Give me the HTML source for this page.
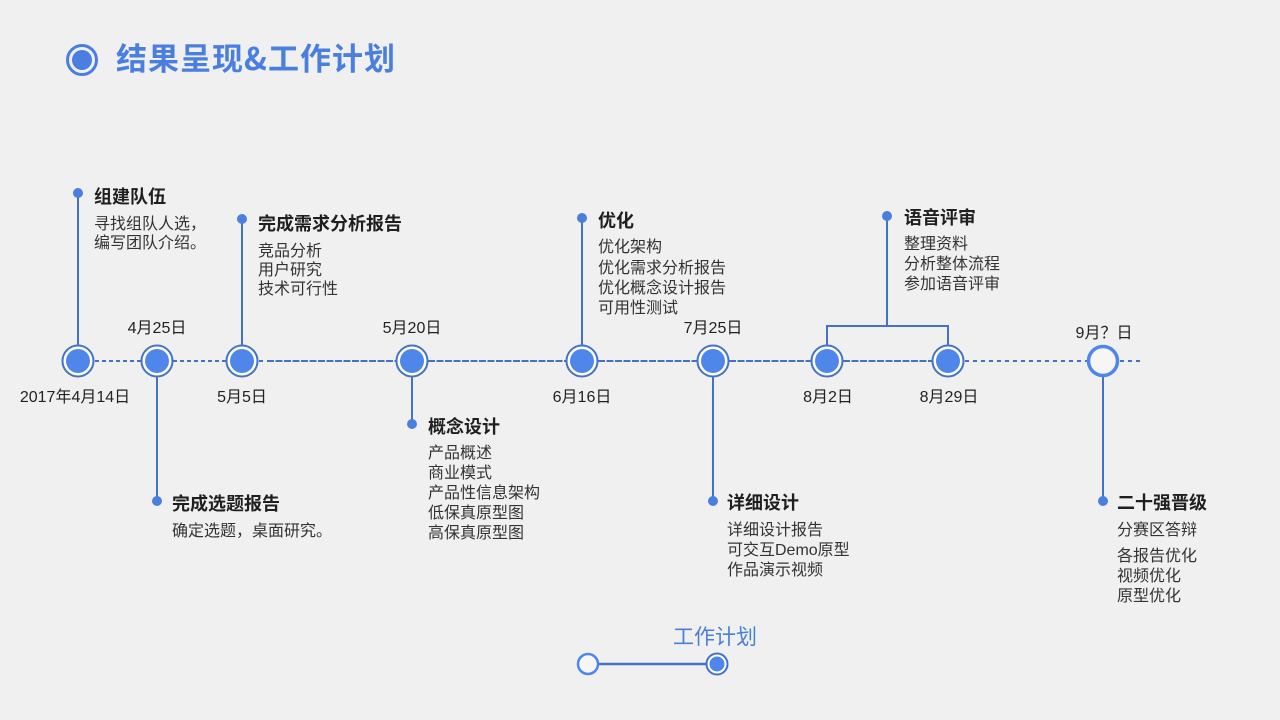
<!DOCTYPE html>
<html>
<head>
<meta charset="utf-8">
<style>
  html,body{margin:0;padding:0;background:#f0f0f0;}
  svg{display:block;}
  text{font-family:"Liberation Sans","Noto Sans CJK SC",sans-serif;fill:#262626;}
  .t{font-size:18px;font-weight:bold;fill:#1f1f1f;}
  .b{font-size:16px;fill:#333;}
  .d{font-size:16px;fill:#222;}
</style>
</head>
<body>
<svg width="1280" height="720" viewBox="0 0 1280 720" xmlns="http://www.w3.org/2000/svg">
  <rect width="1280" height="720" fill="#f0f0f0"/>

  <!-- Header -->
  <circle cx="82" cy="60" r="14.5" fill="none" stroke="#4a7fe0" stroke-width="3"/>
  <circle cx="82" cy="60" r="10" fill="#4a7fe0"/>
  <text x="116" y="70" style="font-size:31px;font-weight:bold;letter-spacing:1px;fill:#4a7fe0;font-family:'Noto Sans CJK SC','Liberation Sans',sans-serif;">结果呈现&amp;工作计划</text>

  <!-- Main timeline line -->
  <g stroke="#4472c4" stroke-width="2" fill="none">
    <line x1="95" y1="361" x2="141" y2="361" stroke-dasharray="4 3"/>
    <line x1="173" y1="361" x2="226" y2="361" stroke-dasharray="4 3"/>
    <line x1="259" y1="361" x2="263" y2="361"/>
    <line x1="267" y1="361" x2="396" y2="361" stroke-dasharray="7 1.5"/>
    <line x1="428" y1="361" x2="566" y2="361" stroke-dasharray="7 1.5"/>
    <line x1="598" y1="361" x2="697" y2="361" stroke-dasharray="7 1.5"/>
    <line x1="729" y1="361" x2="811" y2="361" stroke-dasharray="7 1.5"/>
    <line x1="843" y1="361" x2="932" y2="361" stroke-dasharray="7 1.5"/>
    <line x1="965" y1="361" x2="1087" y2="361" stroke-dasharray="4 4"/>
    <line x1="1120" y1="361" x2="1142" y2="361" stroke-dasharray="4 4"/>
  </g>

  <!-- Vertical connectors -->
  <g stroke="#4472c4" stroke-width="2" fill="none">
    <line x1="78" y1="193" x2="78" y2="345"/>
    <line x1="157" y1="377" x2="157" y2="501"/>
    <line x1="242" y1="219" x2="242" y2="345"/>
    <line x1="412" y1="377" x2="412" y2="424"/>
    <line x1="582" y1="218" x2="582" y2="345"/>
    <line x1="713" y1="377" x2="713" y2="501"/>
    <polyline points="827,345 827,326 948,326 948,345"/>
    <line x1="887" y1="216" x2="887" y2="326"/>
    <line x1="1103" y1="377" x2="1103" y2="501"/>
  </g>

  <!-- Small end dots -->
  <g fill="#4a7fe0">
    <circle cx="78" cy="193" r="5"/>
    <circle cx="157" cy="501" r="5"/>
    <circle cx="242" cy="219" r="5"/>
    <circle cx="412" cy="424" r="5"/>
    <circle cx="582" cy="218" r="5"/>
    <circle cx="713" cy="501" r="5"/>
    <circle cx="887" cy="216" r="5"/>
    <circle cx="1103" cy="501" r="5"/>
  </g>

  <!-- Nodes -->
  <g>
    <g transform="translate(78,361)"><circle r="15.5" fill="#ffffff" stroke="#4472c4" stroke-width="2"/><circle r="12" fill="#4f86ea"/></g>
    <g transform="translate(157,361)"><circle r="15.5" fill="#ffffff" stroke="#4472c4" stroke-width="2"/><circle r="12" fill="#4f86ea"/></g>
    <g transform="translate(242,361)"><circle r="15.5" fill="#ffffff" stroke="#4472c4" stroke-width="2"/><circle r="12" fill="#4f86ea"/></g>
    <g transform="translate(412,361)"><circle r="15.5" fill="#ffffff" stroke="#4472c4" stroke-width="2"/><circle r="12" fill="#4f86ea"/></g>
    <g transform="translate(582,361)"><circle r="15.5" fill="#ffffff" stroke="#4472c4" stroke-width="2"/><circle r="12" fill="#4f86ea"/></g>
    <g transform="translate(713,361)"><circle r="15.5" fill="#ffffff" stroke="#4472c4" stroke-width="2"/><circle r="12" fill="#4f86ea"/></g>
    <g transform="translate(827,361)"><circle r="15.5" fill="#ffffff" stroke="#4472c4" stroke-width="2"/><circle r="12" fill="#4f86ea"/></g>
    <g transform="translate(948,361)"><circle r="15.5" fill="#ffffff" stroke="#4472c4" stroke-width="2"/><circle r="12" fill="#4f86ea"/></g>
    <circle cx="1103" cy="361" r="14.5" fill="#f6f6f6" stroke="#4f86ea" stroke-width="3.5"/>
  </g>

  <!-- Date labels -->
  <g class="d" text-anchor="middle">
    <text class="d" x="75" y="402">2017年4月14日</text>
    <text class="d" x="157" y="333">4月25日</text>
    <text class="d" x="242" y="402">5月5日</text>
    <text class="d" x="412" y="333">5月20日</text>
    <text class="d" x="582" y="402">6月16日</text>
    <text class="d" x="713" y="333">7月25日</text>
    <text class="d" x="828" y="402">8月2日</text>
    <text class="d" x="949" y="402">8月29日</text>
    <text class="d" x="1104" y="338">9月？日</text>
  </g>

  <!-- 组建队伍 -->
  <text class="t" x="94" y="203">组建队伍</text>
  <text class="b" x="94" y="229">寻找组队人选，</text>
  <text class="b" x="94" y="248">编写团队介绍。</text>

  <!-- 完成需求分析报告 -->
  <text class="t" x="258" y="230">完成需求分析报告</text>
  <text class="b" x="258" y="256">竞品分析</text>
  <text class="b" x="258" y="275">用户研究</text>
  <text class="b" x="258" y="294">技术可行性</text>

  <!-- 完成选题报告 -->
  <text class="t" x="172" y="510">完成选题报告</text>
  <text class="b" x="172" y="536">确定选题，桌面研究。</text>

  <!-- 概念设计 -->
  <text class="t" x="428" y="433">概念设计</text>
  <text class="b" x="428" y="458">产品概述</text>
  <text class="b" x="428" y="478">商业模式</text>
  <text class="b" x="428" y="498">产品性信息架构</text>
  <text class="b" x="428" y="518">低保真原型图</text>
  <text class="b" x="428" y="538">高保真原型图</text>

  <!-- 优化 -->
  <text class="t" x="598" y="227">优化</text>
  <text class="b" x="598" y="252">优化架构</text>
  <text class="b" x="598" y="273">优化需求分析报告</text>
  <text class="b" x="598" y="293">优化概念设计报告</text>
  <text class="b" x="598" y="313">可用性测试</text>

  <!-- 语音评审 -->
  <text class="t" x="904" y="224">语音评审</text>
  <text class="b" x="904" y="249">整理资料</text>
  <text class="b" x="904" y="269">分析整体流程</text>
  <text class="b" x="904" y="289">参加语音评审</text>

  <!-- 详细设计 -->
  <text class="t" x="727" y="509">详细设计</text>
  <text class="b" x="727" y="535">详细设计报告</text>
  <text class="b" x="727" y="555">可交互Demo原型</text>
  <text class="b" x="727" y="575">作品演示视频</text>

  <!-- 二十强晋级 -->
  <text class="t" x="1117" y="509">二十强晋级</text>
  <text class="b" x="1117" y="535">分赛区答辩</text>
  <text class="b" x="1117" y="561">各报告优化</text>
  <text class="b" x="1117" y="581">视频优化</text>
  <text class="b" x="1117" y="601">原型优化</text>

  <!-- Bottom nav -->
  <text x="673" y="644" style="font-size:21px;fill:#4a7fd6;">工作计划</text>
  <line x1="598" y1="664" x2="707" y2="664" stroke="#4472c4" stroke-width="2.5"/>
  <circle cx="588" cy="664" r="10" fill="#f6f6f6" stroke="#4f86ea" stroke-width="2.5"/>
  <circle cx="717" cy="664" r="10.5" fill="#ffffff" stroke="#4472c4" stroke-width="2"/>
  <circle cx="717" cy="664" r="7.5" fill="#4f86ea"/>
</svg>
</body>
</html>
